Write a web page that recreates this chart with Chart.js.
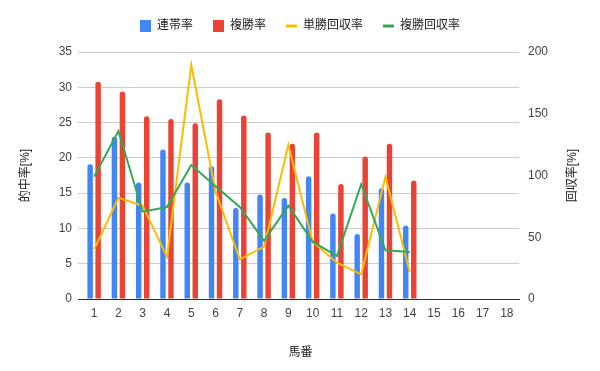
<!DOCTYPE html>
<html>
<head>
<meta charset="utf-8">
<script src="https://cdn.jsdelivr.net/npm/chart.js@4.4.1/dist/chart.umd.min.js"></script>
<style>
  html, body { margin: 0; padding: 0; background: #ffffff; }
  #wrap { width: 600px; height: 371px; }
</style>
</head>
<body>
<div id="wrap"><canvas id="c" width="600" height="371"></canvas></div>
<script>
// ---- data ----
const categories = ['1','2','3','4','5','6','7','8','9','10','11','12','13','14','15','16','17','18'];
const seriesNames = ['連帯率', '複勝率', '単勝回収率', '複勝回収率'];
const rentaiRate   = [19.1, 23.0, 16.5, 21.2, 16.5, 18.8, 12.9, 14.8, 14.3, 17.4, 12.1, 9.2, 15.7, 10.4];
const fukushoRate  = [30.8, 29.4, 25.9, 25.5, 24.9, 28.3, 26.0, 23.6, 22.0, 23.6, 16.3, 20.2, 22.0, 16.8];
const tanshoReturn = [40.2, 82.0, 75.5, 34.3, 189.5, 87.0, 32.1, 42.4, 124.7, 46.4, 29.4, 20.0, 99.0, 21.6];
const fukushoReturn= [99.1, 136.0, 70.7, 74.5, 108.5, 91.2, 74.5, 47.2, 75.6, 46.4, 34.8, 92.9, 39.4, 38.0];
const leftTicks  = [0, 5, 10, 15, 20, 25, 30, 35];
const rightTicks = [0, 50, 100, 150, 200];
const xTitle = '馬番';
const leftTitle = '的中率[%]';
const rightTitle = '回収率[%]';

const FONT = "'Liberation Sans', Arial, 'Noto Sans CJK JP', sans-serif";
const BLUE = '#4285F4', RED = '#EA4335', YELLOW = '#FBBC04', GREEN = '#34A853';

const legendHeightPlugin = {
  id: 'legendHeight',
  beforeInit(chart) {
    const lg = chart.legend;
    if (!lg || lg._patched) return;
    const orig = lg.fit;
    lg.fit = function () { orig.call(this); this.height = 52; };
    lg._patched = true;
  }
};

const rightTitlePlugin = {
  id: 'rightTitle',
  afterDraw(chart) {
    const s = chart.scales.y1;
    const ctx = chart.ctx;
    ctx.save();
    ctx.translate(s.right - 27, (chart.chartArea.top + chart.chartArea.bottom) / 2);
    ctx.rotate(-Math.PI / 2);
    ctx.textAlign = 'center';
    ctx.textBaseline = 'middle';
    ctx.font = "12px " + FONT;
    ctx.fillStyle = '#222222';
    ctx.fillText(rightTitle, 0, 0);
    ctx.restore();
  }
};

new Chart(document.getElementById('c'), {
  data: {
    labels: categories,
    datasets: [
      { type: 'bar', label: seriesNames[0], data: rentaiRate, backgroundColor: BLUE, yAxisID: 'y',
        borderRadius: 3, categoryPercentage: 0.66, barPercentage: 0.68, order: 3, pointStyle: 'rect' },
      { type: 'bar', label: seriesNames[1], data: fukushoRate, backgroundColor: RED, yAxisID: 'y',
        borderRadius: 3, categoryPercentage: 0.66, barPercentage: 0.68, order: 3, pointStyle: 'rect' },
      { type: 'line', label: seriesNames[2], data: tanshoReturn, borderColor: YELLOW, backgroundColor: YELLOW,
        borderWidth: 2, pointRadius: 0, tension: 0, yAxisID: 'y1', order: 2, pointStyle: 'line' },
      { type: 'line', label: seriesNames[3], data: fukushoReturn, borderColor: GREEN, backgroundColor: GREEN,
        borderWidth: 2, pointRadius: 0, tension: 0, yAxisID: 'y1', order: 1, pointStyle: 'line' }
    ]
  },
  options: {
    responsive: false,
    animation: false,
    layout: { padding: 0 },
    plugins: {
      tooltip: { enabled: false },
      legend: {
        position: 'top',
        align: 'center',
        labels: {
          font: { family: FONT, size: 12 },
          color: '#222222',
          usePointStyle: true,
          pointStyleWidth: 11,
          boxHeight: 12,
          padding: 20,
          sort: (a, b) => a.datasetIndex - b.datasetIndex,
          generateLabels(chart) {
            const items = Chart.defaults.plugins.legend.labels.generateLabels(chart);
            items.forEach(it => {
              const ds = chart.data.datasets[it.datasetIndex];
              if (ds.type === 'line') { it.pointStyle = 'line'; it.lineWidth = 3; it.strokeStyle = ds.borderColor; }
              else { it.pointStyle = 'rect'; it.lineWidth = 0; }
            });
            return items;
          }
        }
      }
    },
    scales: {
      x: {
        type: 'category',
        offset: true,
        grid: { display: false, drawTicks: false },
        border: { display: true, color: '#333333', width: 1 },
        ticks: { font: { family: FONT, size: 12 }, color: '#444444', padding: 7, maxRotation: 0, autoSkip: false },
        title: { display: true, text: xTitle, font: { family: FONT, size: 12 }, color: '#222222', padding: { top: 4, bottom: 11 } },
        afterFit(s) { s.height = 72; }
      },
      y: {
        position: 'left',
        min: 0, max: 35,
        afterBuildTicks(s) { s.ticks = leftTicks.map(v => ({ value: v })); },
        grid: {
          color: c => (c.tick && c.tick.value === 0) ? '#333333' : '#cccccc',
          lineWidth: 1, drawTicks: true, tickLength: 4
        },
        border: { display: false },
        ticks: { font: { family: FONT, size: 12 }, color: '#444444', padding: 6 },
        title: { display: true, text: leftTitle, font: { family: FONT, size: 12 }, color: '#222222', padding: { top: 18, bottom: 0 } },
        afterFit(s) { s.width = 82; }
      },
      y1: {
        position: 'right',
        min: 0, max: 200,
        afterBuildTicks(s) { s.ticks = rightTicks.map(v => ({ value: v })); },
        grid: { display: false, drawTicks: false },
        border: { display: false },
        ticks: { font: { family: FONT, size: 12 }, color: '#444444', padding: 9 },
        title: { display: false },
        afterFit(s) { s.width = 81; }
      }
    }
  },
  plugins: [legendHeightPlugin, rightTitlePlugin]
});
</script>
</body>
</html>
